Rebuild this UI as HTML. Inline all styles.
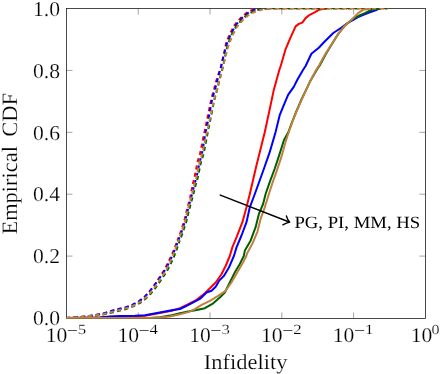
<!DOCTYPE html>
<html><head><meta charset="utf-8"><title>Empirical CDF of Infidelity</title>
<style>
html,body{margin:0;padding:0;background:#fff;}
body{width:440px;height:374px;overflow:hidden;position:relative;font-family:"Liberation Serif",serif;}
</style></head><body>
<svg width="440" height="374" viewBox="0 0 440 374" style="position:absolute;left:0;top:0">
<rect x="0" y="0" width="440" height="374" fill="#fff"/>
<path d="M138.24,318.4 v-6 M138.24,8.5 v6 M210.03,318.4 v-6 M210.03,8.5 v6 M281.82,318.4 v-6 M281.82,8.5 v6 M353.61,318.4 v-6 M353.61,8.5 v6 M66.45,256.10 h6 M425.4,256.10 h-6 M66.45,194.20 h6 M425.4,194.20 h-6 M66.45,132.30 h6 M425.4,132.30 h-6 M66.45,70.40 h6 M425.4,70.40 h-6" stroke="#666" stroke-width="0.6" fill="none"/>
<rect x="66.45" y="8.5" width="358.95" height="309.90" fill="none" stroke="#1c1c1c" stroke-width="0.8"/>
<clipPath id="c"><rect x="66" y="8" width="360" height="310.7"/></clipPath>
<g clip-path="url(#c)" fill="none" stroke-linejoin="round">
<path d="M66.50,318.00 L100.00,317.60 L112.00,316.80 L125.00,316.50 L145.00,315.80 L159.80,313.00 L173.00,310.40 L180.00,308.20 L188.30,304.10 L196.60,299.90 L204.90,293.30 L209.90,288.30 L215.70,282.50 L221.50,274.20 L225.60,266.00 L229.80,256.00 L232.40,247.10 L236.60,237.10 L242.40,222.20 L246.50,207.30 L249.80,194.00 L256.50,165.20 L260.70,148.60 L264.80,132.00 L269.60,109.80 L273.80,89.90 L279.30,70.00 L280.70,66.00 L285.70,48.80 L290.70,37.20 L295.60,26.40 L298.90,23.90 L302.30,22.60 L305.60,18.10 L309.70,14.80 L314.70,12.30 L318.80,9.80 L323.00,9.00 L326.00,8.50" stroke="#ff0000" stroke-width="2.0"/>
<path d="M66.50,318.00 L73.00,317.60 L84.99,316.54 L93.17,315.51 L103.01,313.67 L112.84,310.98 L119.53,309.23 L126.08,307.59 L132.67,305.03 L139.31,301.41 L144.67,297.09 L149.17,292.05 L153.91,285.76 L158.44,279.05 L163.22,271.84 L167.16,264.58 L171.15,256.29 L174.25,249.06 L177.35,240.63" stroke="#ff0000" stroke-width="2.0" stroke-dasharray="4.2 3.25" stroke-dashoffset="0.587"/>
<path d="M177.35,240.63 L179.85,234.23 L182.24,227.05 L184.53,219.89 L186.42,211.81 L188.13,205.19 L190.03,197.97 L191.54,190.58 L192.81,184.07 L194.63,176.84 L196.14,168.89 L197.69,161.47 L199.92,154.04 L201.42,146.92 L202.91,139.60 L204.41,132.37 L205.91,125.15 L207.41,117.93 L208.93,110.63 L210.37,103.38 L212.13,95.96 L214.18,88.72 L216.00,81.54 L218.44,74.45 L220.77,67.25 L222.46,59.90 L224.47,51.54 L226.17,42.81 L229.69,34.21 L234.82,24.71 L240.98,17.68 L247.24,12.30 L254.51,8.71 L261.64,8.50 L271.30,8.50" stroke="#ff0000" stroke-width="2.0" stroke-dasharray="4.2 3.25" stroke-dashoffset="0.786"/>
<path d="M271.3,8.5 L387.5,8.5" stroke="#ff0000" stroke-width="2.0" stroke-dasharray="1.0 6.45" stroke-dashoffset="7.250"/>
<path d="M66.50,318.00 L90.00,317.80 L100.00,317.50 L110.00,316.60 L120.00,316.00 L135.00,315.70 L145.00,315.20 L159.80,312.40 L173.00,309.90 L180.00,309.00 L186.60,305.80 L193.30,302.40 L200.70,298.30 L206.50,292.50 L211.50,290.80 L215.70,286.70 L219.00,280.90 L223.90,275.90 L228.90,267.60 L233.90,256.00 L236.60,247.10 L241.50,235.50 L246.50,222.20 L249.80,207.30 L254.80,194.00 L264.00,168.50 L269.80,151.90 L275.60,132.00 L279.80,114.80 L283.90,104.80 L288.10,94.90 L293.90,86.60 L297.20,80.00 L303.00,70.00 L305.60,66.00 L311.40,53.80 L318.80,47.70 L324.70,41.50 L328.00,38.20 L333.30,33.00 L341.60,27.50 L346.50,23.90 L352.00,20.50 L358.00,17.20 L364.00,14.50 L369.80,12.30 L375.60,10.30 L378.00,9.00 L381.00,8.50" stroke="#0000ff" stroke-width="2.0"/>
<path d="M66.50,318.00 L73.00,317.60 L85.00,316.60 L93.17,315.51 L102.98,313.53 L112.73,310.53 L119.43,308.80 L125.96,307.18 L132.51,304.68 L139.14,301.11 L144.51,296.91 L149.14,292.02 L154.06,285.87 L158.76,279.26 L163.73,272.13 L167.89,264.92 L171.93,256.61 L174.97,249.32 L178.16,240.92" stroke="#0000ff" stroke-width="2.0" stroke-dasharray="4.2 3.25" stroke-dashoffset="0.134"/>
<path d="M178.16,240.92 L180.69,234.53 L183.08,227.33 L185.37,220.12 L187.26,212.02 L188.95,205.41 L190.95,198.21 L192.84,190.91 L194.43,184.51 L196.52,177.31 L198.11,169.30 L199.70,162.00 L201.79,154.54 L203.07,147.28 L204.29,139.90 L205.60,132.63 L207.09,125.41 L208.59,118.19 L210.01,110.86 L211.28,103.59 L212.97,96.18 L215.07,88.96 L216.97,81.79 L218.87,74.57 L220.96,67.30 L222.65,59.94 L224.67,51.59 L227.11,43.14 L230.59,34.64 L235.65,25.27 L241.69,18.39 L247.79,13.13 L254.87,9.64 L261.82,8.50 L271.30,8.50" stroke="#0000ff" stroke-width="2.0" stroke-dasharray="4.2 3.25" stroke-dashoffset="0.430"/>
<path d="M66.50,318.00 L150.00,317.90 L160.00,317.30 L170.00,315.60 L180.00,313.20 L188.30,311.60 L196.60,309.90 L204.90,308.20 L213.20,303.30 L219.80,297.50 L224.80,292.50 L229.80,282.50 L234.70,272.60 L239.70,264.30 L243.80,256.00 L244.90,250.40 L250.70,240.40 L255.60,227.20 L258.90,213.90 L263.10,204.00 L265.60,194.00 L269.80,181.80 L274.80,168.50 L279.70,153.60 L283.90,140.30 L288.40,132.00 L292.10,122.00 L296.30,111.40 L301.30,99.80 L306.10,89.90 L310.00,81.60 L316.70,70.00 L320.00,65.00 L322.70,60.00 L326.00,53.80 L332.10,43.80 L338.20,33.90 L344.90,25.60 L351.50,19.90 L359.00,15.60 L364.80,13.10 L369.80,10.60 L375.60,9.00 L379.00,8.50" stroke="#005f00" stroke-width="2.0"/>
<path d="M66.50,318.00 L73.01,317.68 L85.01,316.74 L93.23,315.93 L103.18,314.48 L113.15,312.19 L119.85,310.51 L126.49,308.92 L133.27,306.42 L140.16,302.84 L145.90,298.53 L150.87,293.53 L155.96,287.27 L160.67,280.51 L165.64,273.22 L169.79,265.81 L173.69,257.33 L176.51,249.87 L179.40,241.37" stroke="#005f00" stroke-width="2.0" stroke-dasharray="4.2 3.25" stroke-dashoffset="1.162"/>
<path d="M179.40,241.37 L181.90,234.97 L184.30,227.73 L186.62,220.46 L188.52,212.32 L190.20,205.75 L192.20,198.55 L194.10,191.23 L195.68,184.85 L197.79,177.61 L199.39,169.57 L200.97,162.34 L203.26,154.94 L204.81,147.67 L206.23,140.33 L207.65,133.09 L209.11,125.86 L210.59,118.63 L212.08,111.30 L213.46,104.08 L215.14,96.77 L217.14,89.54 L218.93,82.31 L220.73,75.08 L222.72,67.75 L224.31,60.33 L226.04,51.95 L228.18,43.51 L231.50,35.07 L236.47,25.84 L242.39,19.09 L248.35,13.97 L255.24,10.57 L262.01,8.62 L271.30,8.50" stroke="#005f00" stroke-width="2.0" stroke-dasharray="4.2 3.25" stroke-dashoffset="3.050"/>
<path d="M271.3,8.5 L387.5,8.5" stroke="#005f00" stroke-width="2.0" stroke-dasharray="4.2 3.25" stroke-dashoffset="5.600"/>
<path d="M66.50,318.00 L150.00,317.90 L160.00,317.60 L170.00,316.50 L180.00,314.30 L188.30,312.10 L194.90,309.10 L201.60,304.90 L209.90,300.80 L218.10,295.80 L225.60,290.80 L231.40,282.50 L237.20,272.60 L243.00,262.60 L246.30,256.00 L247.30,252.90 L252.30,243.80 L257.30,232.10 L260.60,218.90 L264.80,207.30 L268.90,194.00 L272.30,183.40 L276.40,171.80 L281.40,156.90 L285.50,142.00 L288.80,132.00 L292.40,122.00 L296.60,111.40 L301.60,99.80 L306.30,89.90 L309.90,81.60 L316.10,70.00 L319.30,65.00 L322.00,60.00 L325.50,53.80 L331.90,43.80 L338.20,33.90 L344.90,25.60 L351.50,19.80 L358.10,13.10 L363.10,9.80 L368.10,9.00 L371.00,8.50" stroke="#bf8040" stroke-width="2.0"/>
<path d="M66.50,318.00 L73.00,317.60 L85.00,316.60 L93.20,315.70 L103.10,314.10 L113.00,311.60 L119.70,309.90 L126.30,308.30 L133.00,305.79 L139.79,302.21 L145.39,297.93 L150.22,292.97 L155.20,286.70 L159.78,279.93 L164.61,272.63 L168.61,265.26 L172.40,256.80 L175.20,249.40 L178.10,240.90" stroke="#bf8040" stroke-width="2.0" stroke-dasharray="4.2 3.25" stroke-dashoffset="1.022"/>
<path d="M178.10,240.90 L180.60,234.50 L183.00,227.30 L185.30,220.10 L187.20,212.00 L188.90,205.40 L190.90,198.20 L192.80,190.90 L194.40,184.50 L196.50,177.30 L198.10,169.30 L199.70,162.00 L202.00,154.60 L203.60,147.40 L205.20,140.10 L206.80,132.90 L208.40,125.70 L210.00,118.50 L211.60,111.20 L213.10,104.00 L214.90,96.70 L217.00,89.50 L218.90,82.30 L220.80,75.10 L222.90,67.80 L224.60,60.40 L226.60,52.10 L229.00,43.80 L232.40,35.50 L237.30,26.40 L243.10,19.80 L248.90,14.80 L255.60,11.50 L262.20,9.60 L271.30,8.50" stroke="#bf8040" stroke-width="2.0" stroke-dasharray="4.2 3.25" stroke-dashoffset="2.684"/>
<path d="M271.3,8.5 L387.5,8.5" stroke="#bf8040" stroke-width="2.0" stroke-dasharray="4.2 3.25" stroke-dashoffset="3.600"/>
</g>
<path d="M219.7,194.9 L289.2,221.95" stroke="#000" stroke-width="1.45" fill="none"/>
<path d="M282.8,224.8 C285.2,223.6 287.4,222.7 289.8,222.2 C288.2,220.7 287.1,218.6 286.4,216.0" stroke="#000" stroke-width="1.35" fill="none" stroke-linecap="round" stroke-linejoin="round"/>
<g style="font-family:'Liberation Serif',serif;filter:grayscale(1);text-rendering:geometricPrecision" fill="#000">
<text x="294.4" y="227.7" font-size="17.2" textLength="125.8" lengthAdjust="spacingAndGlyphs">PG, PI, MM, HS</text>
<g stroke="#fff" stroke-width="0.18">
<text x="33.0" y="325.20" font-size="21.2" textLength="27.0" lengthAdjust="spacingAndGlyphs">0.0</text>
<text x="33.0" y="263.30" font-size="21.2" textLength="27.0" lengthAdjust="spacingAndGlyphs">0.2</text>
<text x="33.0" y="201.40" font-size="21.2" textLength="27.0" lengthAdjust="spacingAndGlyphs">0.4</text>
<text x="33.0" y="139.50" font-size="21.2" textLength="27.0" lengthAdjust="spacingAndGlyphs">0.6</text>
<text x="33.0" y="77.60" font-size="21.2" textLength="27.0" lengthAdjust="spacingAndGlyphs">0.8</text>
<text x="33.0" y="15.70" font-size="21.2" textLength="27.0" lengthAdjust="spacingAndGlyphs">1.0</text>
<text x="45.65" y="342.0" font-size="20.9" textLength="21.6" lengthAdjust="spacingAndGlyphs">10</text>
<text x="67.05" y="335.2" font-size="14" textLength="10.7" lengthAdjust="spacingAndGlyphs" stroke="#000" stroke-width="0.15">−</text>
<text x="77.85" y="333.6" font-size="14" textLength="8.4" lengthAdjust="spacingAndGlyphs">5</text>
<text x="117.44" y="342.0" font-size="20.9" textLength="21.6" lengthAdjust="spacingAndGlyphs">10</text>
<text x="138.84" y="335.2" font-size="14" textLength="10.7" lengthAdjust="spacingAndGlyphs" stroke="#000" stroke-width="0.15">−</text>
<text x="149.64" y="333.6" font-size="14" textLength="8.4" lengthAdjust="spacingAndGlyphs">4</text>
<text x="189.23" y="342.0" font-size="20.9" textLength="21.6" lengthAdjust="spacingAndGlyphs">10</text>
<text x="210.63" y="335.2" font-size="14" textLength="10.7" lengthAdjust="spacingAndGlyphs" stroke="#000" stroke-width="0.15">−</text>
<text x="221.43" y="333.6" font-size="14" textLength="8.4" lengthAdjust="spacingAndGlyphs">3</text>
<text x="261.02" y="342.0" font-size="20.9" textLength="21.6" lengthAdjust="spacingAndGlyphs">10</text>
<text x="282.42" y="335.2" font-size="14" textLength="10.7" lengthAdjust="spacingAndGlyphs" stroke="#000" stroke-width="0.15">−</text>
<text x="293.22" y="333.6" font-size="14" textLength="8.4" lengthAdjust="spacingAndGlyphs">2</text>
<text x="332.81" y="342.0" font-size="20.9" textLength="21.6" lengthAdjust="spacingAndGlyphs">10</text>
<text x="354.21" y="335.2" font-size="14" textLength="10.7" lengthAdjust="spacingAndGlyphs" stroke="#000" stroke-width="0.15">−</text>
<text x="365.01" y="333.6" font-size="14" textLength="8.4" lengthAdjust="spacingAndGlyphs">1</text>
<text x="410.70" y="342.0" font-size="20.9" textLength="21.6" lengthAdjust="spacingAndGlyphs">10</text>
<text x="431.60" y="333.6" font-size="14" textLength="8.0" lengthAdjust="spacingAndGlyphs">0</text>
<text x="245.6" y="369" font-size="21.3" text-anchor="middle" textLength="83.6" lengthAdjust="spacingAndGlyphs">Infidelity</text>
<text transform="translate(17.0,234.6) rotate(-90)" font-size="22" textLength="88.6" lengthAdjust="spacingAndGlyphs">Empirical</text>
<text transform="translate(17.0,136.7) rotate(-90)" font-size="22" textLength="43.8" lengthAdjust="spacingAndGlyphs">CDF</text>
</g></g>
</svg>
</body></html>
